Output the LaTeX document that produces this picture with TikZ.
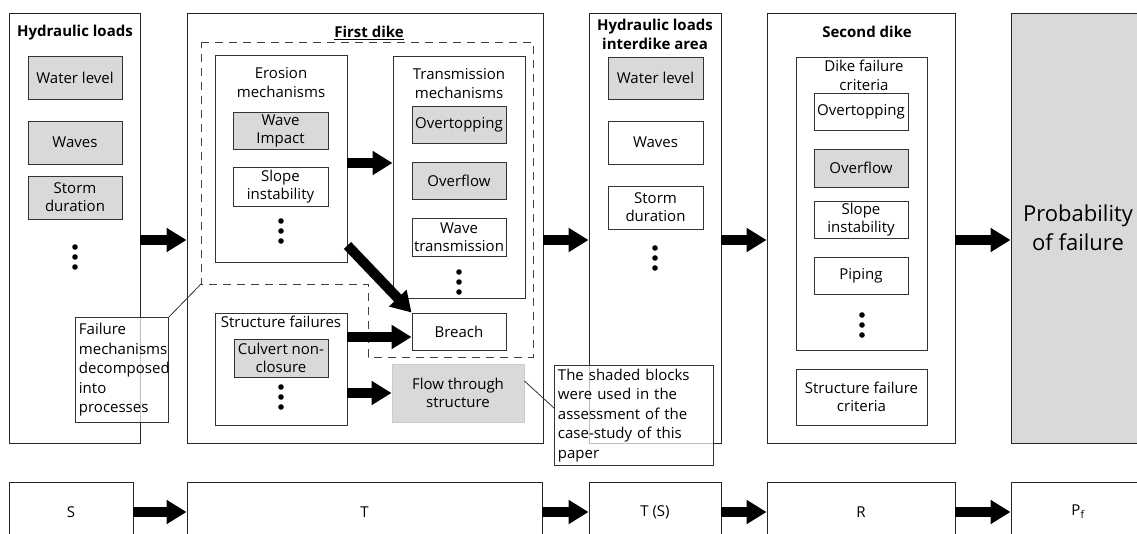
\documentclass[tikz,border=0pt]{standalone}
\usepackage{fontspec}
\setmainfont{Open Sans}
\usetikzlibrary{arrows.meta}
\newcommand{\dikefont}{\fontsize{15}{19}\selectfont}
\newcommand{\cellfont}{\fontsize{15}{18}\selectfont}
\newcommand{\probfont}{\fontsize{22}{29}\selectfont}

\begin{document}
\begin{tikzpicture}[x=1pt,y=-1pt,
    frame/.style={draw=black!85,line width=0.9pt,inner sep=0pt},
    cell/.style={draw=black!80,line width=0.9pt,inner sep=0pt,align=center,font=\cellfont,minimum width=94pt,minimum height=37pt},
    shaded/.style={cell,fill=black!15},
    headline/.style={inner sep=0pt,align=center,font=\dikefont\bfseries},
    subhead/.style={inner sep=0pt,align=center,font=\dikefont},
    note/.style={draw=black!80,line width=0.9pt,fill=white,fill opacity=0.7,text opacity=1,align=left,font=\fontsize{15}{19.5}\selectfont,inner sep=3.5pt},
    blockarrow/.style={line width=10pt,-{Triangle[width=23pt,length=20pt]}}]
    \clip (0,0) rectangle (1137,533);

    % top row
    \node[frame,minimum width=131pt,minimum height=430pt] (hyd) at (74.5,228) {};
    \node[frame,minimum width=356pt,minimum height=430pt] (dikeone) at (365,228) {};
    \node[frame,minimum width=132pt,minimum height=430pt] (inter) at (655,228) {};
    \node[frame,minimum width=188pt,minimum height=430pt] (diketwo) at (861,228) {};
    \node[frame,fill=black!15,minimum width=134pt,minimum height=430pt,align=center,font=\probfont] (prob) at (1078,228) {Probability\\of failure};

    % hydraulic loads
    \node[headline] (hydtitle) at (75,33) {Hydraulic loads};
    \node[shaded,minimum height=43pt] (hydlevel) at (75,77.5) {Water level};
    \node[shaded,minimum height=43pt] (hydwaves) at (75,142.5) {Waves};
    \node[shaded,minimum height=43pt] (hydstorm) at (75,197.5) {Storm\\duration};

    % first dike
    \draw[black!75,line width=0.9pt,dash pattern=on 8pt off 6pt] (201,42) -- (533,42) -- (533,357) -- (368,357) -- (368,284) -- (201,284) -- cycle;
    \coordinate (bend) at (201,284);
    \node[headline,fill=white,inner sep=2pt] (dikeonetitle) at (369,33) {\underline{First dike}};
    \node[cell,minimum width=132pt,minimum height=207pt] (ero) at (281,158.5) {};
    \node[subhead] (erotitle) at (281,83) {Erosion\\mechanisms};
    \node[shaded,minimum width=95pt] (impact) at (280.5,130.5) {Wave\\Impact};
    \node[cell,minimum width=95pt,minimum height=39pt] (slope) at (280.5,186.5) {Slope\\instability};
    \node[cell,minimum width=132pt,minimum height=242pt] (trans) at (459,177) {};
    \node[subhead] (transtitle) at (459,83.5) {Transmission\\mechanisms};
    \node[shaded] (tover) at (459,124.5) {Overtopping};
    \node[shaded] (tflow) at (459,180.5) {Overflow};
    \node[cell,minimum height=38pt] (twave) at (459,237) {Wave\\transmission};
    \node[cell] (breach) at (459,331.5) {Breach};
    \node[cell,minimum width=132pt,minimum height=112pt] (struct) at (281,369) {};
    \node[subhead] (structtitle) at (281,322) {Structure failures};
    \node[shaded,minimum height=38pt] (culvert) at (281,358) {Culvert non-\\closure};
    \node[shaded,draw=black!20,minimum width=132pt,minimum height=58pt] (flow) at (458,393) {Flow through\\structure};

    % interdike area
    \node[headline] (intertitle) at (655,34) {Hydraulic loads\\interdike area};
    \node[shaded,minimum width=95pt,minimum height=42pt] (intlevel) at (655.5,78) {Water level};
    \node[cell,minimum width=95pt,minimum height=43pt] (intwaves) at (655.5,142.5) {Waves};
    \node[cell,minimum width=95pt,minimum height=43pt] (intstorm) at (655.5,207.5) {Storm\\duration};

    % second dike
    \node[headline] (diketwotitle) at (867,32) {Second dike};
    \node[cell,minimum width=131pt,minimum height=293pt] (crit) at (861.5,203.5) {};
    \node[subhead] (crittitle) at (864,75) {Dike failure\\criteria};
    \node[cell] (critover) at (861,111.5) {Overtopping};
    \node[shaded,minimum height=38pt] (critflow) at (861,168) {Overflow};
    \node[cell] (critslope) at (861,219.5) {Slope\\instability};
    \node[cell] (critpipe) at (861,275.5) {Piping};
    \node[cell,minimum width=131pt,minimum height=56pt] (critstruct) at (861.5,397) {Structure failure\\criteria};

    % dots
    \foreach \x/\y in {75/247,281/221,459/272,281/387,655/248,862/315}
        \foreach \d in {0,10,20}
            \fill (\x,\y+\d) circle (2.8pt);

    % arrows
    \draw[blockarrow] (hyd.east |- 0,240) -- (dikeone.west |- 0,240);
    \draw[blockarrow] (dikeone.east |- 0,240) -- (inter.west |- 0,240);
    \draw[blockarrow] (inter.east |- 0,240) -- (diketwo.west |- 0,240);
    \draw[blockarrow] (diketwo.east |- 0,240) -- (prob.west |- 0,240);
    \draw[blockarrow] (ero.east |- 0,163) -- (trans.west |- 0,163);
    \draw[blockarrow] ([yshift=17pt]ero.south east) -- (breach.north west);
    \draw[blockarrow] (struct.east |- 0,337) -- (breach.west |- 0,337);
    \draw[blockarrow] (struct.east |- 0,393) -- (flow.west);

    % bottom row
    \node[frame,minimum width=124pt,minimum height=60pt,font=\dikefont] (rowS) at (71,512) {S};
    \node[frame,minimum width=355pt,minimum height=60pt,font=\dikefont] (rowT) at (364.5,512) {T};
    \node[frame,minimum width=132pt,minimum height=60pt,font=\dikefont] (rowTS) at (655,512) {T (S)};
    \node[frame,minimum width=188pt,minimum height=60pt,font=\dikefont] (rowR) at (861,512) {R};
    \node[frame,minimum width=134pt,minimum height=60pt,font=\dikefont] (rowP) at (1078,512) {P\textsubscript{f}};
    \draw[blockarrow] (rowS.east) -- (rowT.west);
    \draw[blockarrow] (rowT.east) -- (rowTS.west);
    \draw[blockarrow] (rowTS.east) -- (rowR.west);
    \draw[blockarrow] (rowR.east) -- (rowP.west);

    % notes
    \node[note,text width=86pt,minimum height=105pt,anchor=north west] (failnote) at (75,317) {Failure\\mechanisms\\decomposed\\into\\processes};
    \node[note,text width=152pt,minimum height=96pt,anchor=north west] (shadenote) at (554,365) {The shaded blocks\\were used in the\\assessment of the\\case-study of this\\paper};
    \draw[black!80,line width=0.8pt] (failnote.north east) -- (bend);
    \draw[black!80,line width=0.8pt] (flow.east |- 0,381) -- (shadenote.west |- 0,408);
\end{tikzpicture}
\end{document}
